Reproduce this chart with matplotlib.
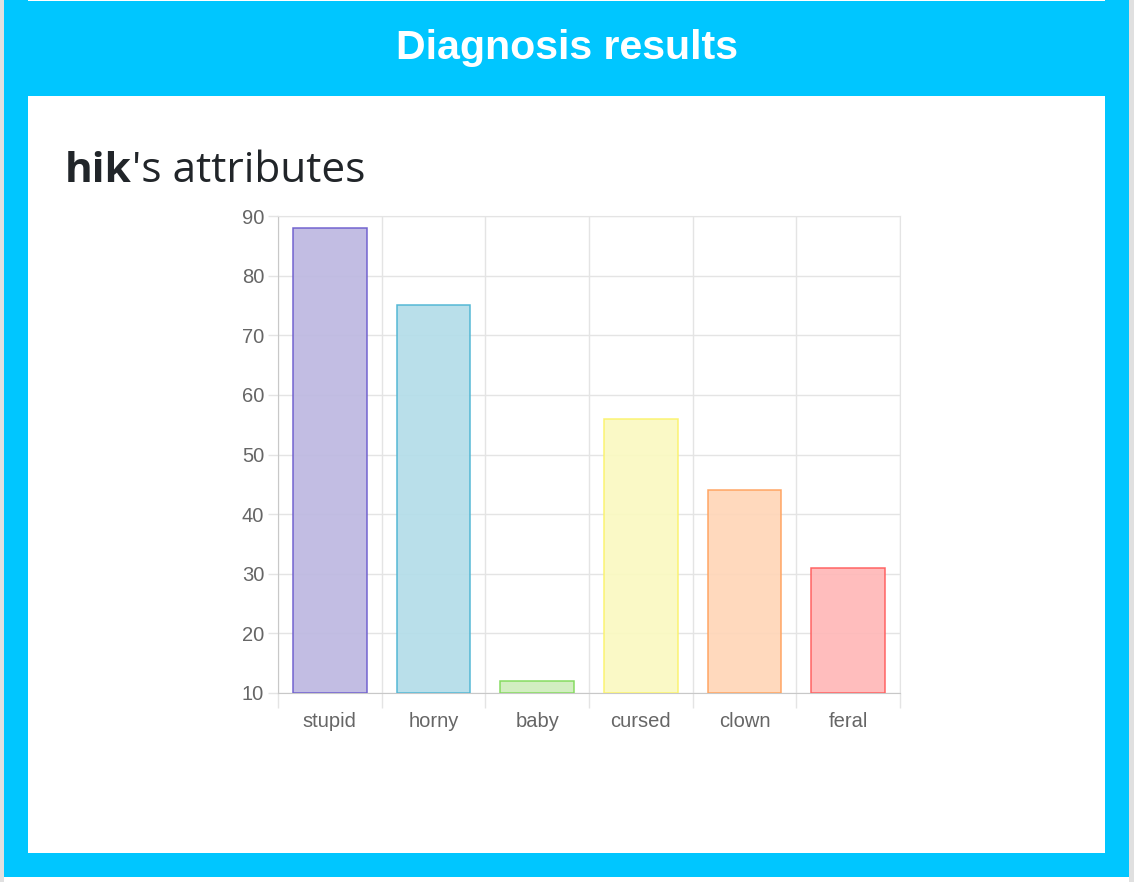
import matplotlib
matplotlib.use("Agg")
import matplotlib.pyplot as plt
from matplotlib.patches import Rectangle
from matplotlib.ticker import MultipleLocator, FixedLocator

# ======================================================
# DATA
# ======================================================

categories = ["stupid", "horny", "baby", "cursed", "clown", "feral"]
scores = [88, 75, 12, 56, 44, 31]
edge_colors = ["#6a5acd", "#4ab4d2", "#7ed957", "#fbf36a", "#ffa05a", "#ff5a5a"]
fill_colors = ["#bdb8e1", "#b3dde9", "#cfedbc", "#faf9c1", "#ffd6b8", "#ffb8b8"]
y_ticks = [10, 20, 30, 40, 50, 60, 70, 80, 90]

W, H = 1134, 882
CYAN = "#00c6ff"
GRID = "#e4e4e4"


def px_rect(x0, y0, x1, y1):
    # pixel box (top-left origin) -> figure fraction rect
    return (x0 / W, 1 - y1 / H, (x1 - x0) / W, (y1 - y0) / H)


fig = plt.figure(figsize=(W / 100, H / 100), dpi=100)
fig.patch.set_facecolor("white")

# page frame
for box, col in [
    ((0, 0, 4, 882), "#e0e0e0"),
    ((1129, 0, 1134, 882), "#e0e0e0"),
    ((4, 0, 1129, 877), CYAN),
    ((28, 96, 1105, 853), "white"),
    ((28, 0, 1105, 1), "white"),
]:
    x, y, w, h = px_rect(*box)
    fig.add_artist(Rectangle((x, y), w, h, transform=fig.transFigure,
                             facecolor=col, edgecolor="none", zorder=0))

fig.text(567 / W, 1 - 48 / H, "Diagnosis results", color="white",
         fontsize=29.6, fontweight="bold", family="Liberation Sans",
         ha="center", va="center")

# heading: bold name + normal rest
t1 = fig.text(65 / W, 1 - 182 / H, "hik", fontsize=30.5, fontweight="bold",
              family="Open Sans", color="#212529", va="baseline")
fig.canvas.draw()
bb = t1.get_window_extent()
fig.text(bb.x1 / W, 1 - 182 / H, "'s attributes", fontsize=30.5,
         family="Open Sans", color="#212529", va="baseline")

# ======================================================
# CHART
# ======================================================

ax = fig.add_axes(px_rect(278, 216, 900, 693))
ax.set_facecolor("none")
x = list(range(len(categories)))
ax.bar(x, [s - 10 for s in scores], bottom=10, width=0.71,
       color=fill_colors, edgecolor=edge_colors, linewidth=1.1, zorder=3,
       alpha=0.92)

ax.set_xlim(-0.5, len(categories) - 0.5)
ax.set_ylim(10, 90)
ax.yaxis.set_major_locator(FixedLocator(y_ticks))
ax.set_xticks(x)
ax.set_xticklabels(categories)
ax.xaxis.set_minor_locator(MultipleLocator(1, offset=0.5))

ax.grid(axis="y", which="major", color=GRID, linewidth=1, zorder=1)
ax.grid(axis="x", which="minor", color=GRID, linewidth=1, zorder=1)

ax.tick_params(axis="x", which="major", length=0, pad=14, labelsize=14.5,
               labelcolor="#666666")
ax.tick_params(axis="x", which="minor", length=11, color=GRID, width=1)
ax.tick_params(axis="y", which="major", length=7, color=GRID, width=1,
               pad=3, labelsize=14.5, labelcolor="#666666")
for lab in ax.get_xticklabels() + ax.get_yticklabels():
    lab.set_family("Liberation Sans")

ax.spines["left"].set_color("#c8c8c8")
ax.spines["bottom"].set_color("#c8c8c8")
ax.spines["top"].set_color(GRID)
ax.spines["right"].set_color(GRID)

fig.savefig("out.png", dpi=100, facecolor=fig.get_facecolor())
